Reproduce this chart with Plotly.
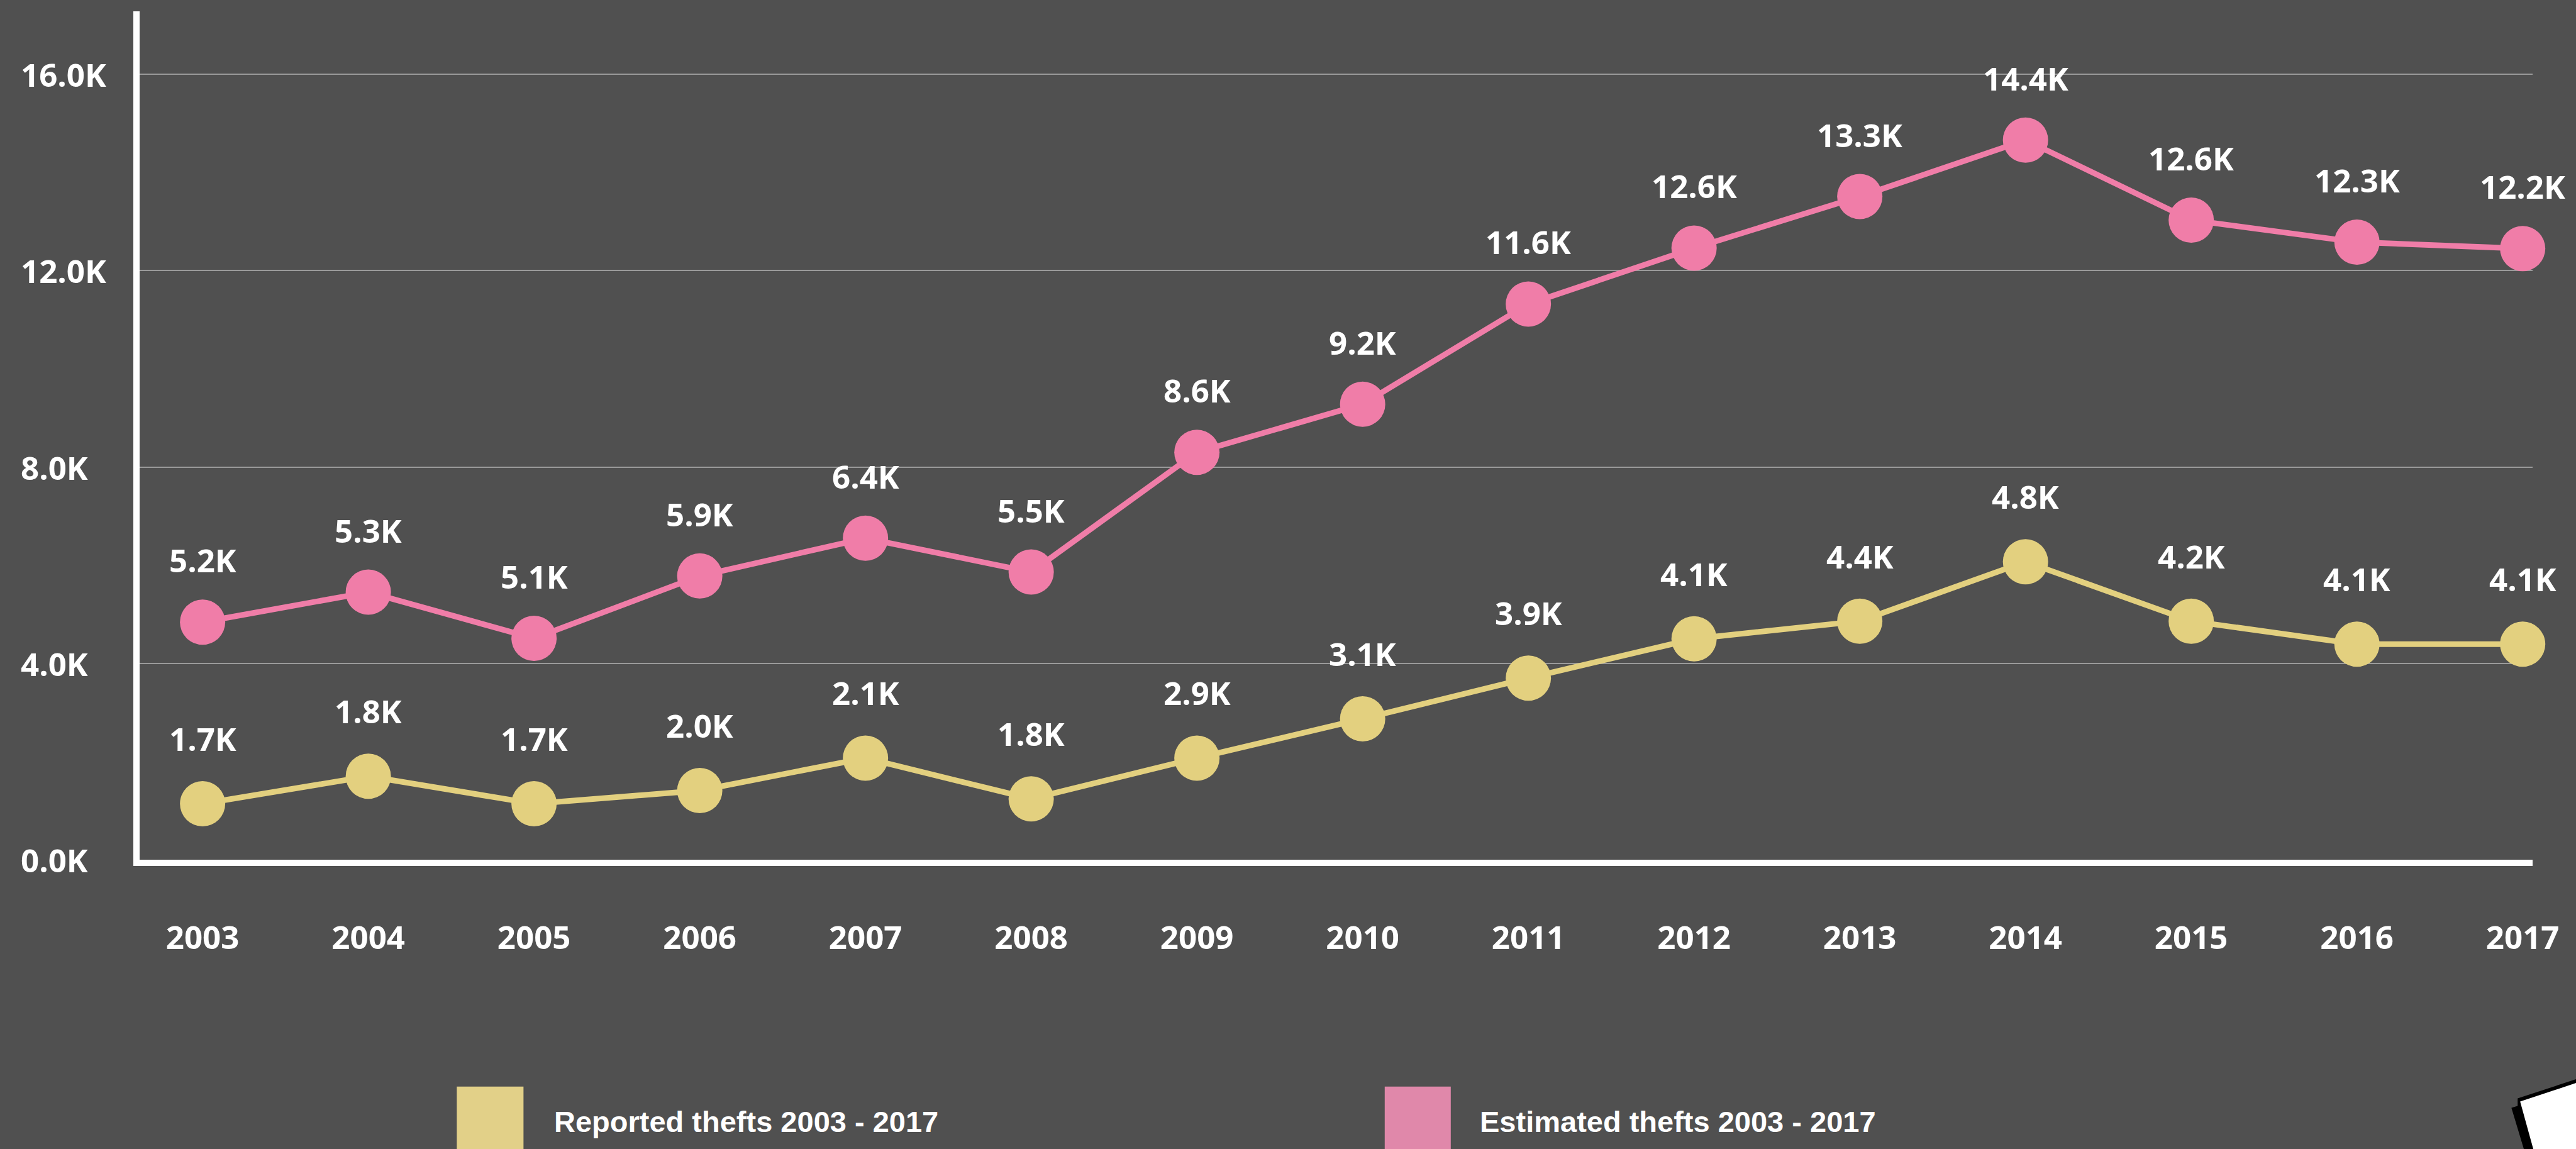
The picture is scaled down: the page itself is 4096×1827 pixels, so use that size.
import plotly.graph_objects as go

# ---------------- data ----------------
years = [2003, 2004, 2005, 2006, 2007, 2008, 2009, 2010, 2011, 2012, 2013, 2014, 2015, 2016, 2017]
year_labels = [str(y) for y in years]

reported = [1140, 1700, 1140, 1410, 2070, 1240, 2070, 2870, 3700, 4500, 4860, 6070, 4860, 4390, 4390]
reported_labels = ["1.7K", "1.8K", "1.7K", "2.0K", "2.1K", "1.8K", "2.9K", "3.1K", "3.9K",
                   "4.1K", "4.4K", "4.8K", "4.2K", "4.1K", "4.1K"]

estimated = [4840, 5450, 4510, 5780, 6550, 5860, 8300, 9280, 11320, 12460, 13510, 14660, 13030, 12580, 12450]
estimated_labels = ["5.2K", "5.3K", "5.1K", "5.9K", "6.4K", "5.5K", "8.6K", "9.2K", "11.6K",
                    "12.6K", "13.3K", "14.4K", "12.6K", "12.3K", "12.2K"]

y_ticks = [0, 4000, 8000, 12000, 16000]
y_tick_labels = ["0.0K", "4.0K", "8.0K", "12.0K", "16.0K"]

legend_names = ["Reported thefts 2003 - 2017", "Estimated thefts 2003 - 2017"]

# ---------------- style ----------------
S = 0.991
W, H = 4096, 1827
BG = "#505050"
PINK = "#F07DA8"
YELLOW = "#E3D07F"
LEG_PINK = "#E088AA"
LEG_YELLOW = "#E2D088"
NUM_FONT = dict(family="Open Sans", size=51, color="white", weight=700)
LEG_FONT = dict(family="Liberation Sans, Arial", size=47, color="white", weight=700)

L = 224 * S
R = 4064 * S
T = 18 * S
B = 1379 * S
PW, PH = R - L, B - T


def px(x):
    return (x - L) / PW


def py(y):
    return (B - y) / PH


fig = go.Figure()

for vals, color in ((reported, YELLOW), (estimated, PINK)):
    fig.add_trace(go.Scatter(
        x=years, y=vals, mode="lines+markers",
        line=dict(color=color, width=9),
        marker=dict(color=color, size=72, line=dict(width=0)),
        cliponaxis=False, showlegend=False, hoverinfo="skip",
    ))

annotations = []
for vals, labels, shift in ((reported, reported_labels, 104), (estimated, estimated_labels, 99)):
    for xv, yv, t in zip(years, vals, labels):
        annotations.append(dict(x=xv, y=yv, text=t, showarrow=False, yshift=shift,
                                xanchor="center", yanchor="middle", font=NUM_FONT))

for tv, tt in zip(y_ticks, y_tick_labels):
    annotations.append(dict(xref="paper", x=px(31 * S), y=tv, yref="y", text=tt,
                            showarrow=False, xanchor="left", yanchor="middle", font=NUM_FONT))

# legend
shapes = []
leg_sq = [(733, 840, LEG_YELLOW), (2222, 2328, LEG_PINK)]
leg_text_x = [887, 2373]
for (x0, x1, c), tx, name in zip(leg_sq, leg_text_x, legend_names):
    shapes.append(dict(type="rect", xref="paper", yref="paper",
                       x0=px(x0 * S), x1=px(x1 * S), y0=py(1743 * S), y1=py(1860 * S),
                       fillcolor=c, line=dict(width=0), layer="above"))
    annotations.append(dict(xref="paper", yref="paper", x=px(tx * S), y=py(1799 * S),
                            text=name, showarrow=False, xanchor="left", yanchor="middle",
                            font=LEG_FONT))


def path(pts):
    return "M " + " L ".join(f"{px(a * S)},{py(b * S)}" for a, b in pts) + " Z"


# decorative page corner (bottom right)
shapes.append(dict(type="path", xref="paper", yref="paper",
                   path=path([(4040, 1762), (4140, 1729), (4140, 1850), (4052, 1850), (4030, 1777), (4040, 1774)]),
                   fillcolor="black", line=dict(width=0), layer="above"))
shapes.append(dict(type="path", xref="paper", yref="paper",
                   path=path([(4044, 1767), (4140, 1735), (4140, 1850), (4067, 1850)]),
                   fillcolor="white", line=dict(width=0), layer="above"))

fig.update_layout(
    width=W, height=H,
    margin=dict(l=L, r=W - R, t=T, b=H - B, pad=0),
    paper_bgcolor=BG, plot_bgcolor=BG,
    showlegend=False,
    annotations=annotations,
    shapes=shapes,
    xaxis=dict(range=[2002.620, 2017.060], tickvals=years, ticktext=year_labels,
               showgrid=False, zeroline=False, showline=True, linecolor="white", linewidth=10,
               ticks="", tickfont=NUM_FONT, ticklabelstandoff=71, fixedrange=True),
    yaxis=dict(range=[0, 17283], tickvals=y_ticks, showticklabels=False,
               showgrid=True, gridcolor="#9a9a9a", gridwidth=2, zeroline=False,
               showline=True, linecolor="white", linewidth=10, ticks="", fixedrange=True),
)

fig.write_html("out.html")
